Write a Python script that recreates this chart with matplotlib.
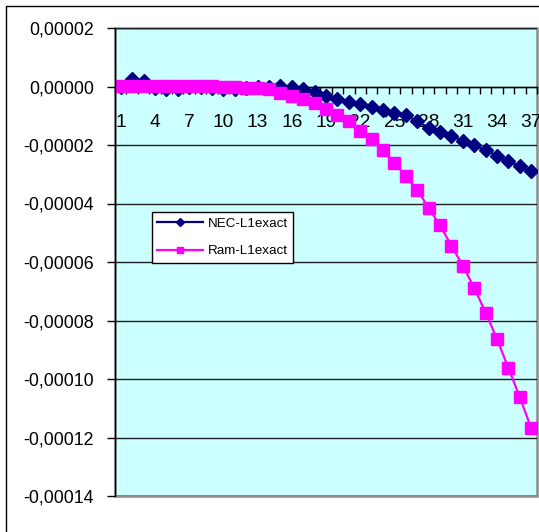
import matplotlib
matplotlib.use("Agg")
import matplotlib.pyplot as plt
from matplotlib.patches import Rectangle
from matplotlib.ticker import FuncFormatter, FixedLocator

plt.rcParams['font.family'] = ['Liberation Sans', 'DejaVu Sans']

categories = list(range(1, 38))
nec_l1exact = [
    -0.2e-6, 2.7e-6, 2.0e-6, -0.5e-6, -1.0e-6, -1.0e-6, -0.3e-6, -0.3e-6, -0.5e-6, -0.8e-6,
    -0.8e-6, -0.5e-6, -0.3e-6, 0.0e-6, 0.1e-6, -0.1e-6, -0.8e-6, -1.95e-6, -3.1e-6, -4.2e-6,
    -5.2e-6, -5.9e-6, -6.95e-6, -8.1e-6, -8.9e-6, -9.8e-6, -11.9e-6, -14.1e-6, -15.7e-6, -17.0e-6,
    -18.5e-6, -20.1e-6, -21.8e-6, -23.6e-6, -25.6e-6, -27.3e-6, -29.0e-6,
]
ram_l1exact = [
    0.3e-6, 0.3e-6, 0.3e-6, 0.3e-6, 0.3e-6, 0.3e-6, 0.3e-6, 0.3e-6, 0.3e-6, -0.3e-6,
    -0.3e-6, -0.4e-6, -0.6e-6, -1.0e-6, -2.2e-6, -3.1e-6, -4.2e-6, -5.6e-6, -7.6e-6, -9.6e-6,
    -11.9e-6, -15.1e-6, -17.9e-6, -21.8e-6, -26.0e-6, -30.7e-6, -35.3e-6, -41.5e-6, -47.5e-6, -54.4e-6,
    -61.3e-6, -68.9e-6, -77.3e-6, -86.4e-6, -96.3e-6, -106.3e-6, -116.9e-6,
]
series_names = ["NEC-L1exact", "Ram-L1exact"]
y_ticks = [0.00002, 0.0, -0.00002, -0.00004, -0.00006, -0.00008, -0.00010, -0.00012, -0.00014]
x_label_ticks = list(range(1, 38, 3))

W, H = 539, 532
fig = plt.figure(figsize=(W / 100, H / 100), dpi=100)
fig.patch.set_facecolor('white')

# outer chart frame (extends beyond right/bottom edges)
fig.patches.append(Rectangle((6 / W, -0.1), 1.2, 1 - 6 / H + 0.1, transform=fig.transFigure,
                             fill=False, edgecolor='black', linewidth=1.0))

L, R, B, T = 115 / W, 537 / W, 1 - 496 / H, 1 - 28 / H
ax = fig.add_axes([L, B, R - L, T - B])
ax.set_facecolor('#CCFFFF')

ax.set_xlim(0.5, 37.5)
ax.set_ylim(-0.00014, 0.00002)

# grid
for yv in y_ticks:
    ax.axhline(yv, color='#202020', linewidth=1.0, zorder=1)

ax.plot(categories, nec_l1exact, color='#000080', marker='D', markersize=7.4,
        linewidth=1.6, label=series_names[0], zorder=3)
ax.plot(categories, ram_l1exact, color='#FF00FF', marker='s', markersize=9.0,
        linewidth=1.6, label=series_names[1], zorder=4)

# spines
for s in ['top', 'right']:
    ax.spines[s].set_visible(False)
ax.spines['bottom'].set_position(('data', 0))
ax.spines['bottom'].set_color('black')
ax.spines['bottom'].set_linewidth(1.0)
ax.spines['left'].set_color('black')
ax.spines['left'].set_linewidth(1.0)
ax.spines['bottom'].set_zorder(2)

# plot-area grey border
ax.add_patch(Rectangle((0, 0), 1, 1, transform=ax.transAxes, fill=False,
                       edgecolor='#8C8C8C', linewidth=1.8, clip_on=False, zorder=0.5))
ax.spines['left'].set_zorder(5)

ax.yaxis.set_major_locator(FixedLocator(y_ticks))
ax.yaxis.set_major_formatter(FuncFormatter(lambda v, p: ('%.5f' % v).replace('.', ',').replace('-0,00000', '0,00000')))
ax.tick_params(axis='y', direction='out', length=6, width=1, pad=9, labelsize=12.8, colors='black')

ax.xaxis.set_major_locator(FixedLocator(x_label_ticks))
ax.xaxis.set_major_formatter(FuncFormatter(lambda v, p: '%d' % v))
ax.xaxis.set_minor_locator(FixedLocator([i + 0.5 for i in range(0, 38)]))
ax.tick_params(axis='x', which='major', length=0, pad=20, labelsize=13.8)
ax.tick_params(axis='x', which='minor', direction='out', length=5, width=1)

leg = ax.legend(loc='upper left', bbox_to_anchor=((152 - 115) / 422, (496 - 212) / 468),
                borderaxespad=0, fontsize=9.6, frameon=True, fancybox=False, framealpha=1,
                edgecolor='black', handlelength=3.4, handletextpad=0.4, labelspacing=1.15,
                borderpad=0.4, markerscale=0.55)
leg.get_frame().set_linewidth(1.0)
leg.set_zorder(6)

fig.savefig('out.png', dpi=100)
